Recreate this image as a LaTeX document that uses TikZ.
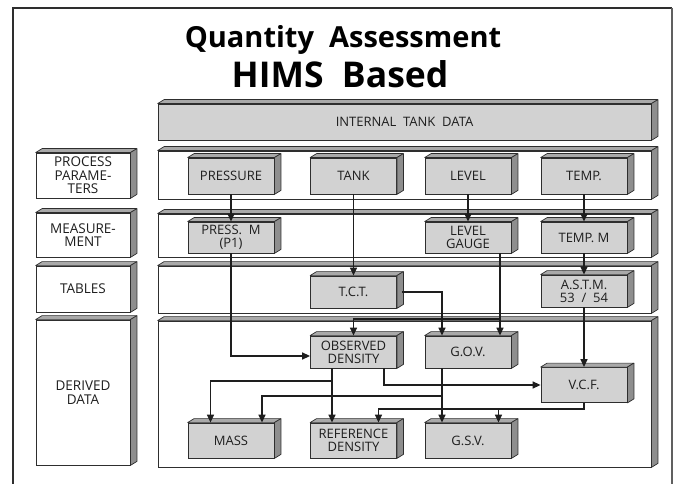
\documentclass[tikz,border=0pt]{standalone}
\usepackage{fontspec}
\setmainfont{Open Sans}
\usepackage{tikz}
\usetikzlibrary{calc,arrows.meta}

\definecolor{boxgray}{HTML}{D2D2D2}
\definecolor{topgray}{HTML}{A9A9A9}
\definecolor{sidegray}{HTML}{8E8E8E}
\definecolor{edgegray}{HTML}{2E2E2E}
\definecolor{inkgray}{HTML}{1E1E1E}

% top and right faces of a box
\newcommand{\extrude}[1]{%
  \filldraw[fill=topgray, draw=edgegray, line width=0.7pt, line join=round]
    (#1.north west) -- ++(6.5pt,4pt) -- ($(#1.north east)+(6.5pt,4pt)$) -- (#1.north east) -- cycle;
  \filldraw[fill=sidegray, draw=edgegray, line width=0.7pt, line join=round]
    (#1.north east) -- ++(6.5pt,4pt) -- ($(#1.south east)+(6.5pt,4pt)$) -- (#1.south east) -- cycle;}

\begin{document}
\begin{tikzpicture}[x=1pt, y=-1pt,
	panel/.style={draw=edgegray, fill=white, line width=0.8pt, inner sep=0pt, minimum width=493pt},
	rowname/.style={draw=edgegray, fill=white, line width=0.8pt, inner sep=0pt, minimum width=94pt,
		align=center, text=inkgray, font=\fontsize{13.5}{13.5}\selectfont},
	block/.style={draw=edgegray, fill=boxgray, line width=0.8pt, inner sep=0pt, minimum width=86pt,
		align=center, text=inkgray, font=\fontsize{13}{13}\selectfont},
	flow/.style={line width=1.4pt, draw=inkgray, -{Triangle[length=8pt,width=7pt]}}]
	\useasboundingbox (0,0) rectangle (678,484);

	% frame
	\draw[line width=1.2pt, edgegray] (13,484) -- (13,8) -- (672,8);
	\draw[line width=1.8pt, gray!75!black] (672,8) -- (672,484);

	\node[font=\bfseries\fontsize{29}{32}\selectfont] (title) at (343,40) {Quantity~ Assessment};
	\node[font=\bfseries\fontsize{35.5}{38}\selectfont] (subtitle) at (340,74) {HIMS~ Based};

	% rows
	\node[panel, fill=boxgray, minimum height=36pt, text=inkgray, font=\fontsize{13}{13}\selectfont] at (404.5,122) (itd) {INTERNAL~ TANK~ DATA};
	\node[panel, minimum height=48pt] at (404.5,175) (prow1) {};
	\node[panel, minimum height=43pt] at (404.5,235.5) (prow2) {};
	\node[panel, minimum height=47pt] at (404.5,289.5) (prow3) {};
	\node[panel, minimum height=146pt] at (404.5,394) (prow4) {};

	\node[rowname, minimum height=45pt] at (83,175.5) (lrow1) {PROCESS\\PARAME-\\TERS};
	\node[rowname, minimum height=44pt] at (83,235) (lrow2) {MEASURE-\\MENT};
	\node[rowname, minimum height=46pt] at (83,289) (lrow3) {TABLES};
	\node[rowname, minimum height=145pt] at (83,392.5) (lrow4) {DERIVED\\DATA};

	% boxes
	\node[block, minimum height=36pt] at (231,176) (press) {PRESSURE};
	\node[block, minimum height=36pt] at (353.5,176) (tank) {TANK};
	\node[block, minimum height=36pt] at (468,176) (level) {LEVEL};
	\node[block, minimum height=36pt] at (584,176) (temp) {TEMP.};

	\node[block, minimum height=31pt] at (231,237.5) (pressm) {PRESS.~ M\\(P1)};
	\node[block, minimum height=31pt] at (468,237.5) (levgauge) {LEVEL\\GAUGE};
	\node[block, minimum height=31pt] at (584,237.5) (tempm) {TEMP. M};

	\node[block, minimum height=32pt] at (353.5,292) (tct) {T.C.T.};
	\node[block, minimum height=32pt] at (584,291) (astm) {A.S.T.M.\\53~ /~ 54};

	\node[block, minimum height=32pt] at (353.5,352) (obsd) {OBSERVED\\DENSITY};
	\node[block, minimum height=32pt] at (468,352) (gov) {G.O.V.};
	\node[block, minimum height=35pt] at (584,385) (vcf) {V.C.F.};

	\node[block, minimum height=35pt] at (231,440.5) (mass) {MASS};
	\node[block, minimum height=35pt] at (353.5,440.5) (refd) {REFERENCE\\DENSITY};
	\node[block, minimum height=35pt] at (468,440.5) (gsv) {G.S.V.};

	\foreach \n in {itd, prow1, prow2, prow3, prow4, lrow1, lrow2, lrow3, lrow4,
		press, tank, level, temp, pressm, levgauge, tempm, tct, astm,
		obsd, gov, vcf, mass, refd, gsv}
		{\extrude{\n}}

	% connectors
	\draw[flow] (press) -- (pressm);
	\draw[flow] (tank) -- (tct);
	\draw[flow] (level) -- (levgauge);
	\draw[flow] (temp) -- (tempm);
	\draw[flow] (tempm) -- (astm);
	\draw[flow] (astm) -- (vcf);
	\draw[flow] (pressm.south) |- ([yshift=-4pt]obsd.west);
	\draw[flow] ([xshift=5pt]tct.east) -| ([xshift=-26pt]gov.north);
	\draw[flow] ([xshift=32pt]levgauge.south) -- ([xshift=32pt]gov.north);
	\coordinate (lgsplit) at (500,319);
	\draw[flow] (lgsplit) -| (obsd.north);

	\draw[flow] ([xshift=-21.5pt]obsd.south) -- ([xshift=-21.5pt]refd.north);
	\coordinate (odsplit) at (332,381);
	\draw[flow] (odsplit) -| ([xshift=-20.5pt]mass.north);
	\draw[flow] ([xshift=30.5pt]obsd.south) |- (vcf.west);
	\draw[flow] ([xshift=-26pt]gov.south) -- ([xshift=-26pt]gsv.north);
	\coordinate (govsplit) at (442,396);
	\draw[flow] (govsplit) -| ([xshift=31pt]mass.north);
	\coordinate (vcfbend) at (584,409);
	\draw[flow] (vcf.south) -- (vcfbend) -| ([xshift=25pt]refd.north);
	\coordinate (vcfsplit) at (498.5,409);
	\draw[flow] (vcfsplit) -- ([xshift=30.5pt]gsv.north);
\end{tikzpicture}
\end{document}
